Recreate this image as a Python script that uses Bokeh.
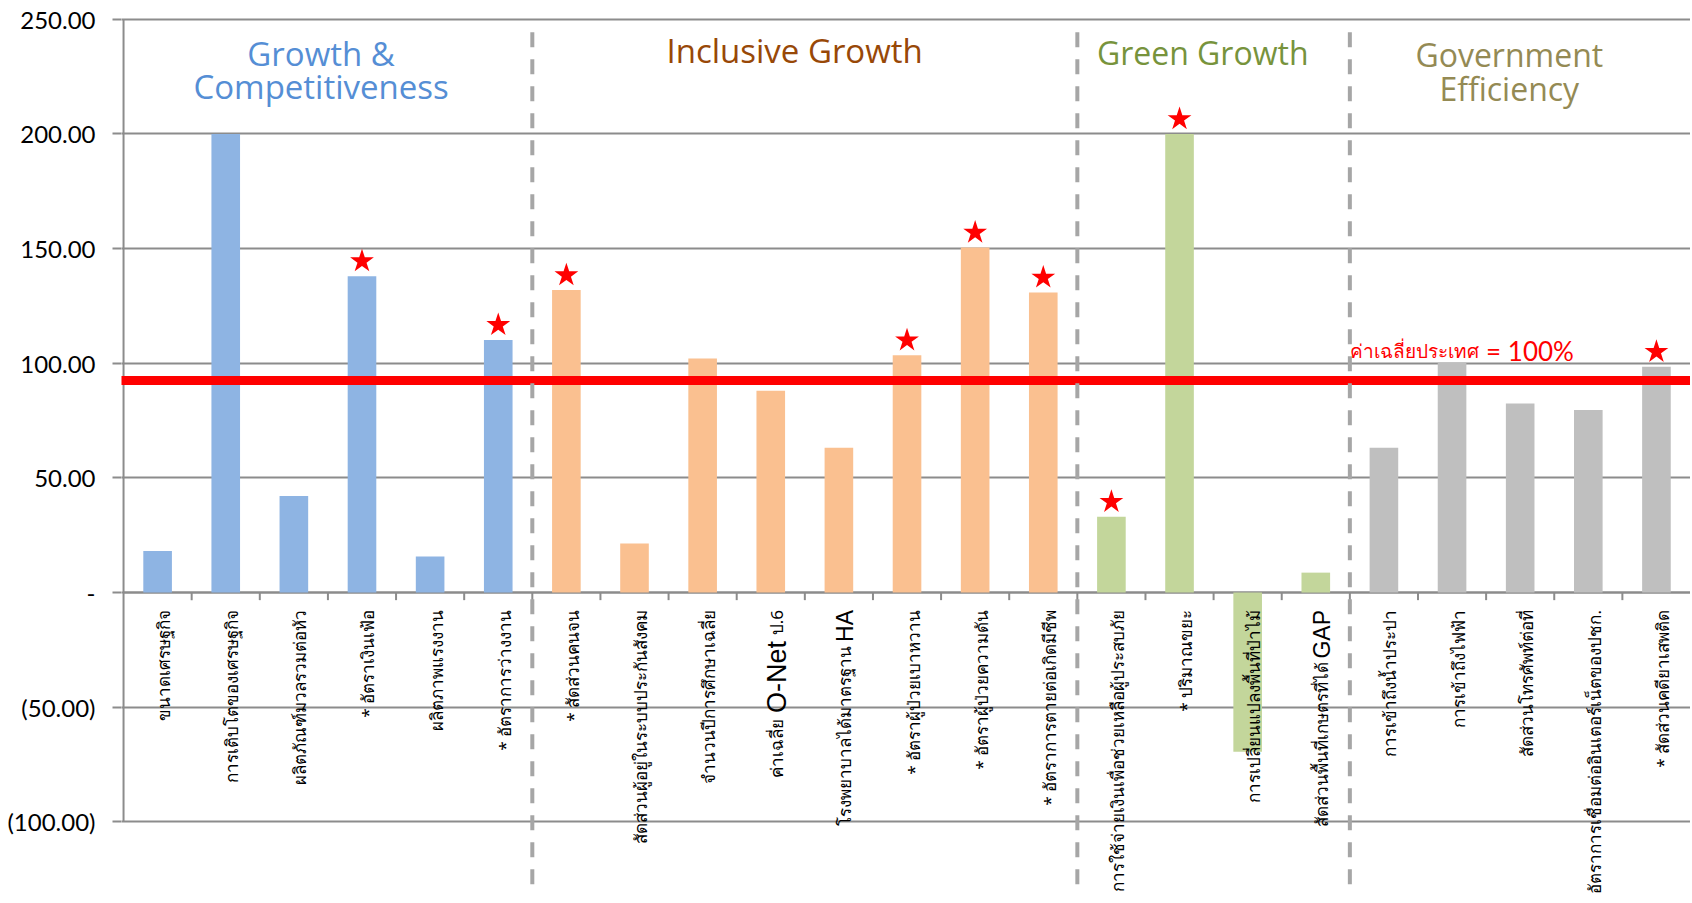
import math
from bokeh.plotting import figure
from bokeh.models import ColumnDataSource, Range1d, FixedTicker
from bokeh.core.properties import value
from bokeh.embed import file_html
from bokeh.resources import INLINE

# ---------------- data ----------------
categories = [
    "ขนาดเศรษฐกิจ", "การเติบโตของเศรษฐกิจ", "ผลิตภัณฑ์มวลรวมต่อหัว", "* อัตราเงินเฟ้อ",
    "ผลิตภาพแรงงาน", "* อัตราการว่างงาน",
    "* สัดส่วนคนจน", "สัดส่วนผู้อยู่ในระบบประกันสังคม", "จำนวนปีการศึกษาเฉลี่ย",
    "ค่าเฉลี่ย O-Net ป.6", "โรงพยาบาลได้มาตรฐาน HA", "* อัตราผู้ป่วยเบาหวาน",
    "* อัตราผู้ป่วยความดัน", "* อัตราการตายต่อเกิดมีชีพ",
    "การใช้จ่ายเงินเพื่อช่วยเหลือผู้ประสบภัย", "* ปริมาณขยะ", "การเปลี่ยนแปลงพื้นที่ป่าไม้",
    "สัดส่วนพื้นที่เกษตรที่ได้ GAP",
    "การเข้าถึงน้ำประปา", "การเข้าถึงไฟฟ้า", "สัดส่วนโทรศัพท์ต่อที่",
    "อัตราการเชื่อมต่ออินเตอร์เน็ตของปชก.", "* สัดส่วนคดียาเสพติด",
]
values = [18.1, 200.0, 42.1, 138.0, 15.7, 110.2,
          131.9, 21.4, 102.1, 88.0, 63.2, 103.5, 150.5, 130.9,
          33.1, 200.0, -69.4, 8.7,
          63.2, 100.2, 82.5, 79.6, 98.5]
starred = [False, False, False, True, False, True,
           True, False, False, False, False, True, True, True,
           True, True, False, False,
           False, False, False, False, True]
group_title_lines = [["Growth &", "Competitiveness"], ["Inclusive Growth"], ["Green Growth"],
                     ["Government", "Efficiency"]]
group_sizes = [6, 8, 4, 5]
group_bar_colors = ["#8EB4E3", "#FAC090", "#C3D69B", "#BFBFBF"]
group_title_colors = ["#558ED5", "#984807", "#77933C", "#948A54"]
y_ticks = [-100, -50, 0, 50, 100, 150, 200, 250]
y_tick_labels = ["(100.00)", "(50.00)", "-", "50.00", "100.00", "150.00", "200.00", "250.00"]
national_avg = 92.5
avg_label_th = "ค่าเฉลี่ยประเทศ"
avg_label_num = "= 100%"

# label pieces (from top of the rotated label downwards) for mixed-size labels
special_labels = {
    9: [("ป.6", "s", 0), ("O-Net", "b", 31), ("ค่าเฉลี่ย", "s", 109)],
    10: [("HA", "b", 0), ("โรงพยาบาลได้มาตรฐาน", "s", 36)],
    17: [("GAP", "b", 0), ("สัดส่วนพื้นที่เกษตรที่ได้", "s", 52)],
}
big_sizes = {9: "27px", 10: "23px", 17: "23px"}

# ---------------- derived ----------------
n = len(categories)
xs = [i + 0.5 for i in range(n)]
colors = []
for g, size in enumerate(group_sizes):
    colors += [group_bar_colors[g]] * size
bounds = []
acc = 0
for size in group_sizes:
    bounds.append((acc, acc + size))
    acc += size

p = figure(width=1690, height=895, output_backend="svg", toolbar_location=None,
           x_range=Range1d(-0.03, 23.0), y_range=Range1d(-132.1, 258.2),
           x_axis_location=None, min_border_left=121, min_border_right=0,
           min_border_top=0, min_border_bottom=0)
p.outline_line_color = None
p.background_fill_color = "white"
p.xgrid.visible = False
p.ygrid.ticker = FixedTicker(ticks=y_ticks)
p.ygrid.grid_line_color = "#8C8C8C"
p.ygrid.grid_line_width = 2
yax = p.yaxis[0]
yax.ticker = FixedTicker(ticks=y_ticks)
yax.major_label_overrides = {t: l for t, l in zip(y_ticks, y_tick_labels)}
yax.axis_line_color = None
yax.major_tick_in = 0
yax.major_tick_out = 9
yax.major_tick_line_color = "#8C8C8C"
yax.major_tick_line_width = 2
yax.minor_tick_line_color = None
yax.major_label_standoff = 17
yax.major_label_text_font = "Lato"
yax.major_label_text_font_size = "24px"
yax.major_label_text_color = "black"

# left axis line and zero axis
p.segment(x0=[0], y0=[y_ticks[0]], x1=[0], y1=[y_ticks[-1]], line_color="#8C8C8C", line_width=2)
p.segment(x0=[0], y0=[0], x1=[n], y1=[0], line_color="#8C8C8C", line_width=2)
# category ticks
p.segment(x0=list(range(1, n)), y0=[0] * (n - 1), x1=list(range(1, n)), y1=[-3.3] * (n - 1),
          line_color="#8C8C8C", line_width=2)

# bars
src = ColumnDataSource(dict(x=xs, top=values, color=colors))
p.vbar(x="x", top="top", bottom=0, width=0.42, fill_color="color", line_color=None, source=src)

# national average line
p.segment(x0=[-1], y0=[national_avg], x1=[n + 1], y1=[national_avg], line_color="#FF0000", line_width=9)

# group separators
sep_x = [b[0] for b in bounds[1:]]
p.segment(x0=sep_x, y0=[244.3] * len(sep_x), x1=sep_x, y1=[-140] * len(sep_x),
          line_color="#A6A6A6", line_width=4, line_dash="15 12")

# stars
sx = [x for x, s in zip(xs, starred) if s]
sy = [v + 6.5 for v, s in zip(values, starred) if s]
p.scatter(sx, sy, marker="star", size=25, fill_color="#FF0000", line_color=None)

# group titles
title_x = [2.9, 9.85, 15.84, 20.34]
title_y = [[235.3, 220.5], [236.4], [235.4], [234.5, 220.0]]
title_sizes = ["33px", "33px", "32px", "32px"]
for g, lines in enumerate(group_title_lines):
    for line, yy in zip(lines, title_y[g]):
        p.text(x=[title_x[g]], y=[yy], text=[line], text_align="center",
               text_baseline="middle", text_font=value("Open Sans"), text_font_size=title_sizes[g],
               text_color=group_title_colors[g])

# average label
p.text(x=[18.0], y=[105.3], text=[avg_label_th], text_align="left", text_baseline="alphabetic",
       text_font=value("Noto Sans"), text_font_size="19px", text_color="#FF0000")
p.text(x=[20.0], y=[105.3], text=[avg_label_num], text_align="left", text_baseline="alphabetic",
       text_font=value("Lato"), text_font_size="26px", text_color="#FF0000")

# category labels (rotated)
label_top = -7.6
plain_x = [xs[i] for i in range(n) if i not in special_labels]
plain_t = [categories[i] for i in range(n) if i not in special_labels]
p.text(x=plain_x, y=[label_top] * len(plain_x), text=plain_t, angle=math.pi / 2,
       text_align="right", text_baseline="alphabetic", x_offset=6,
       text_font=value("Noto Sans"), text_font_size="17px", text_color="black")
for i, parts in special_labels.items():
    for txt, kind, off in parts:
        p.text(x=[xs[i]], y=[label_top], text=[txt], angle=math.pi / 2,
               text_align="right", text_baseline="alphabetic", x_offset=6, y_offset=off,
               text_font=value("Liberation Sans" if kind == "b" else "Noto Sans"),
               text_font_size=big_sizes[i] if kind == "b" else "17px", text_color="black")

open("out.html", "w").write(file_html(p, INLINE))
